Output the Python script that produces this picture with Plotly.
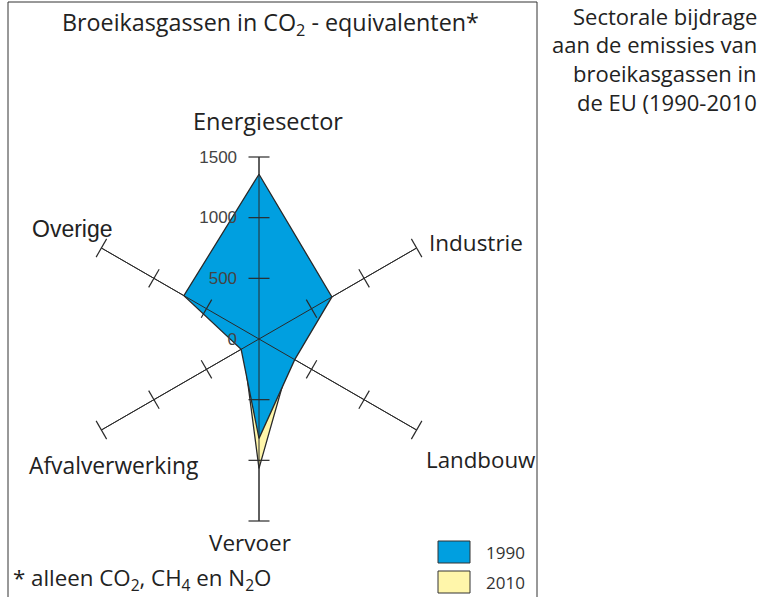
import plotly.graph_objects as go

categories = ["Energiesector", "Industrie", "Landbouw", "Vervoer", "Afvalverwerking", "Overige"]
values_1990 = [1358, 694, 340, 819, 170, 715]
values_2010 = [1250, 520, 300, 1066, 150, 600]
radial_ticks = [0, 500, 1000, 1500]
years = ["1990", "2010"]
side_title = ["Sectorale bijdrage", "aan de emissies van", "broeikasgassen in", "de EU (1990-2010"]

W, H = 764, 597
BLUE = "#009fe0"
YELLOW = "#fff6aa"
DARK = "#2a2a2a"
FONT = "Open Sans"

def px(x, y):
    return x / W, 1 - y / H

fig = go.Figure()

def closed(v):
    return list(v) + [v[0]]

fig.add_trace(go.Scatterpolar(
    r=closed(values_2010), theta=closed(categories), mode="lines",
    fill="toself", fillcolor=YELLOW, line=dict(color=DARK, width=1.3),
    name=years[1], showlegend=False, hoverinfo="r+theta"))
fig.add_trace(go.Scatterpolar(
    r=closed(values_1990), theta=closed(categories), mode="lines",
    fill="toself", fillcolor=BLUE, line=dict(color=DARK, width=1.3),
    name=years[0], showlegend=False, hoverinfo="r+theta"))

# spokes drawn above the fills
for c in categories:
    fig.add_trace(go.Scatterpolar(
        r=[radial_ticks[0], radial_ticks[-1]], theta=[c, c], mode="lines",
        line=dict(color=DARK, width=1), showlegend=False, hoverinfo="skip"))

# tick marks across each spoke
screen_angles = [90, 30, -30, -90, -150, 150]
tr, tt, ta = [], [], []
for c, a in zip(categories, screen_angles):
    for v in radial_ticks[1:]:
        tr.append(v); tt.append(c); ta.append(90 - a)
fig.add_trace(go.Scatterpolar(
    r=tr, theta=tt, mode="markers",
    marker=dict(symbol="line-ew", size=15, angle=ta,
                line=dict(color=DARK, width=1.2), color=DARK),
    showlegend=False, hoverinfo="skip"))

cx0, cy0 = px(259 - 182, 339 + 182)
cx1, cy1 = px(259 + 182, 339 - 182)
pad = "&nbsp;" * 4
fig.update_layout(
    width=W, height=H, margin=dict(l=0, r=0, t=0, b=0),
    paper_bgcolor="white", plot_bgcolor="white",
    font=dict(family=FONT, color="#222"),
    polar=dict(
        domain=dict(x=[cx0, cx1], y=[cy0, cy1]),
        bgcolor="rgba(0,0,0,0)",
        gridshape="linear",
        angularaxis=dict(direction="clockwise", rotation=90,
                         showgrid=True, gridcolor=DARK, gridwidth=1,
                         showline=False, showticklabels=False, ticks=""),
        radialaxis=dict(range=[0, 1500], tickvals=radial_ticks,
                        ticktext=[str(t) + pad for t in radial_ticks],
                        angle=90, side="counterclockwise", tickangle=90,
                        showgrid=False, showline=False, ticks="",
                        layer="above traces",
                        tickfont=dict(family="Liberation Sans", size=17, color="#444")),
    ),
)

# frame
fig.add_shape(type="rect", xref="paper", yref="paper",
              x0=8 / W, x1=537 / W, y0=-0.05, y1=1 - 2 / H,
              line=dict(color="#333", width=1))

annots = [
    ("Broeikasgassen in CO<sub>2</sub> - equivalenten*", 270, 23, "center", 23.3, FONT),
    ("Energiesector", 268, 121, "center", 23.5, FONT),
    ("Industrie", 476, 242, "center", 22.5, FONT),
    ("Landbouw", 481, 459, "center", 22.3, FONT),
    ("Vervoer", 250, 542, "center", 22.5, FONT),
    ("Afvalverwerking", 113, 465, "center", 22.8, FONT),
    ("Overige", 72, 229, "center", 23, "Liberation Sans"),
    ("* alleen CO<sub>2</sub>, CH<sub>4</sub> en N<sub>2</sub>O", 11, 579, "left", 22.3, FONT),
]
for text, x, y, anc, size, fam in annots:
    ax, ay = px(x, y)
    fig.add_annotation(text=text, x=ax, y=ay, xref="paper", yref="paper",
                       xanchor=anc, yanchor="middle", showarrow=False,
                       font=dict(size=size, family=fam, color="#222"))

for i, line in enumerate(side_title):
    ax, ay = px(759, 15.5 + i * 28.7)
    fig.add_annotation(text=line, x=ax, y=ay, xref="paper", yref="paper",
                       xanchor="right", yanchor="middle", showarrow=False,
                       font=dict(size=22, family=FONT, color="#222"))

# legend
for i, (yr, col) in enumerate(zip(years, [BLUE, YELLOW])):
    y0 = 541 + i * 30
    fig.add_shape(type="rect", xref="paper", yref="paper",
                  x0=438 / W, x1=470 / W, y0=1 - (y0 + 22) / H, y1=1 - y0 / H,
                  fillcolor=col, line=dict(color="#333", width=1))
    lx, ly = px(484, y0 + 11)
    fig.add_annotation(text=yr, x=lx, y=ly, xref="paper", yref="paper",
                       xanchor="left", yanchor="middle", showarrow=False,
                       font=dict(size=17, family=FONT, color="#333"))

fig.write_html("out.html", config={"displayModeBar": False},
               post_script="document.body.style.margin='0';")
